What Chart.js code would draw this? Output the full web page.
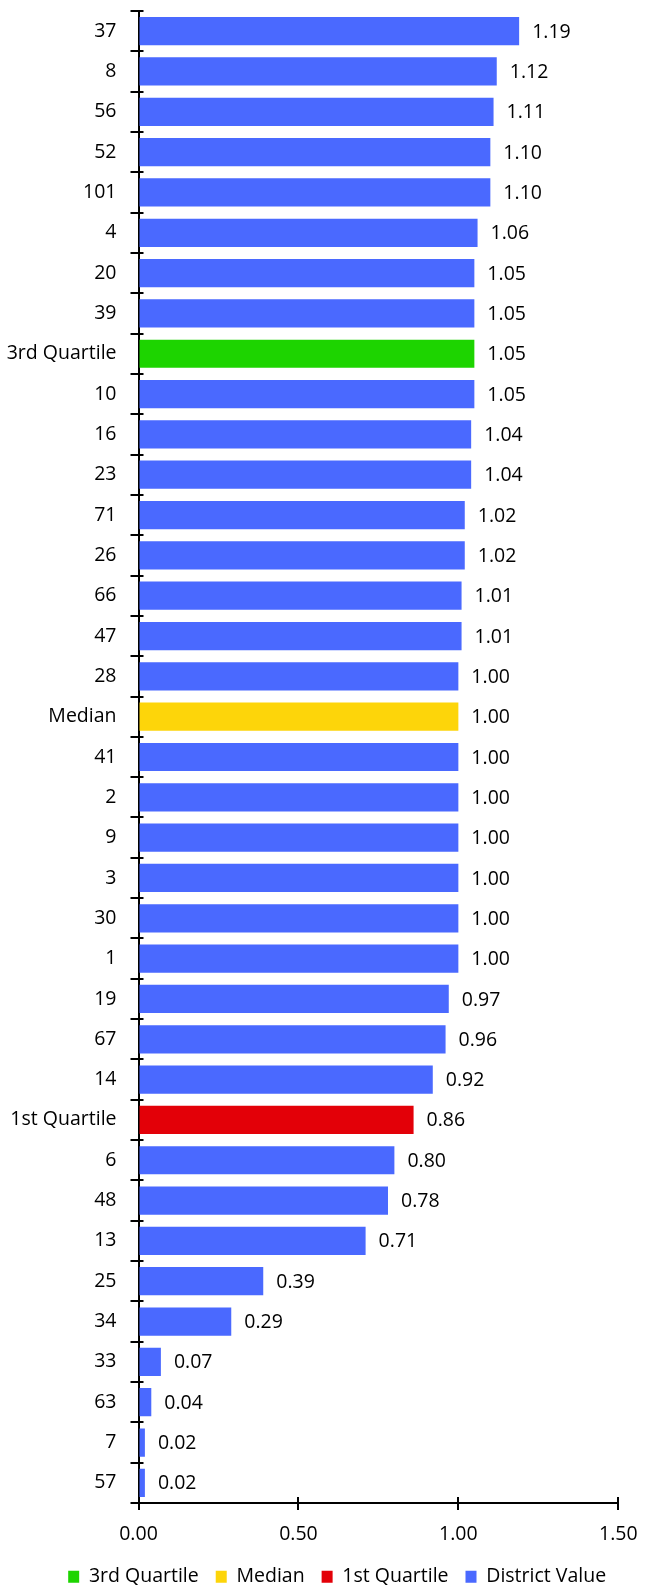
<!DOCTYPE html>
<html>
<head>
<meta charset="utf-8">
<script src="https://cdn.jsdelivr.net/npm/chart.js@4/dist/chart.umd.min.js"></script>
<style>
  html, body { margin: 0; padding: 0; background: #fff; }
  #wrap { width: 660px; height: 1589px; position: relative; }
</style>
</head>
<body>
<div id="wrap"><canvas id="districtChart"></canvas></div>
<script>
// Categories, top to bottom
const districts = ['37', '8', '56', '52', '101', '4', '20', '39', '3rd Quartile', '10',
    '16', '23', '71', '26', '66', '47', '28', 'Median', '41', '2',
    '9', '3', '30', '1', '19', '67', '14', '1st Quartile', '6', '48',
    '13', '25', '34', '33', '63', '7', '57'];
// Values
const districtValues = [1.19, 1.12, 1.11, 1.10, 1.10, 1.06, 1.05, 1.05, 1.05, 1.05,
    1.04, 1.04, 1.02, 1.02, 1.01, 1.01, 1.00, 1.00, 1.00, 1.00,
    1.00, 1.00, 1.00, 1.00, 0.97, 0.96, 0.92, 0.86, 0.80, 0.78,
    0.71, 0.39, 0.29, 0.07, 0.04, 0.02, 0.02];
const xTicks = [0, 0.5, 1, 1.5];
const legendNames = ['3rd Quartile', 'Median', '1st Quartile', 'District Value'];

const colors = {
    '3rd Quartile': '#1dd400',
    'Median': '#fdd50a',
    '1st Quartile': '#e30008',
    'District Value': '#4a69ff'
};
const barColors = districts.map(d => colors[d] || colors['District Value']);

const FONT = "'Open Sans', sans-serif";
const FONT_SIZE = 19.5;
Chart.defaults.font.family = FONT;
Chart.defaults.color = '#000';

// Value labels at the end of each bar
const valueLabels = {
    id: 'valueLabels',
    afterDatasetsDraw(chart) {
        const ctx = chart.ctx;
        const meta = chart.getDatasetMeta(0);
        ctx.save();
        ctx.font = FONT_SIZE + 'px ' + FONT;
        ctx.fillStyle = '#000';
        ctx.textAlign = 'left';
        ctx.textBaseline = 'middle';
        meta.data.forEach((bar, i) => {
            ctx.fillText(districtValues[i].toFixed(2), bar.x + 13, bar.y + 1);
        });
        ctx.restore();
    }
};

// tick marks cross the axis line a little, like the original
const crossTicks = {
    id: 'crossTicks',
    afterDraw(chart) {
        const ctx = chart.ctx;
        const x = chart.scales.x, y = chart.scales.y;
        ctx.save();
        ctx.strokeStyle = '#000';
        ctx.lineWidth = 2;
        ctx.beginPath();
        const n = districts.length;
        for (let i = 0; i <= n; i++) {
            const py = Math.round(y.top + i * y.height / n);
            ctx.moveTo(y.right, py);
            ctx.lineTo(y.right + 5, py);
        }
        xTicks.forEach(v => {
            const px = Math.round(x.getPixelForValue(v));
            ctx.moveTo(px, x.top);
            ctx.lineTo(px, x.top - 6);
        });
        ctx.stroke();
        ctx.restore();
    }
};

// legend sits a little right of the canvas centre in the original
const legendShift = {
    id: 'legendShift',
    afterLayout(chart) {
        chart.legend.left += 28;
        chart.legend.right += 28;
    }
};

const ctx = document.getElementById('districtChart').getContext('2d');
new Chart(ctx, {
    type: 'bar',
    data: {
        labels: districts,
        datasets: [{
            label: 'District Value',
            data: districtValues,
            backgroundColor: barColors,
            borderWidth: 0,
            barPercentage: 0.7,
            categoryPercentage: 1.0
        }]
    },
    options: {
        indexAxis: 'y',
        responsive: true,
        maintainAspectRatio: false,
        animation: false,
        layout: { padding: { left: 0, right: 41.7, top: 11, bottom: -7.5 } },
        plugins: {
            tooltip: { enabled: false },
            legend: {
                position: 'bottom',
                labels: {
                    boxWidth: 11,
                    boxHeight: 12,
                    padding: 17,
                    font: { size: FONT_SIZE },
                    color: '#000',
                    generateLabels: () => legendNames.map(name => ({
                        text: name,
                        fillStyle: colors[name],
                        strokeStyle: colors[name],
                        lineWidth: 0,
                        hidden: false
                    }))
                }
            }
        },
        scales: {
            x: {
                min: 0,
                max: 1.5,
                afterBuildTicks: scale => { scale.ticks = xTicks.map(v => ({ value: v })); },
                afterFit: scale => { scale.height = 47; },
                grid: { drawOnChartArea: false, color: '#000', lineWidth: 2, tickLength: 7 },
                border: { color: '#000', width: 2 },
                ticks: {
                    padding: 13,
                    font: { size: FONT_SIZE },
                    color: '#000',
                    callback: v => Number(v).toFixed(2)
                }
            },
            y: {
                afterFit: scale => {
                    scale.width = 138.5;
                    scale.paddingTop = 0;
                    scale.paddingBottom = 0;
                },
                grid: { drawOnChartArea: false, color: '#000', lineWidth: 2, tickLength: 8, offset: true },
                border: { color: '#000', width: 2 },
                ticks: {
                    padding: 14,
                    font: { size: FONT_SIZE },
                    color: '#000',
                    autoSkip: false
                }
            }
        }
    },
    plugins: [valueLabels, crossTicks, legendShift]
});
</script>
</body>
</html>
